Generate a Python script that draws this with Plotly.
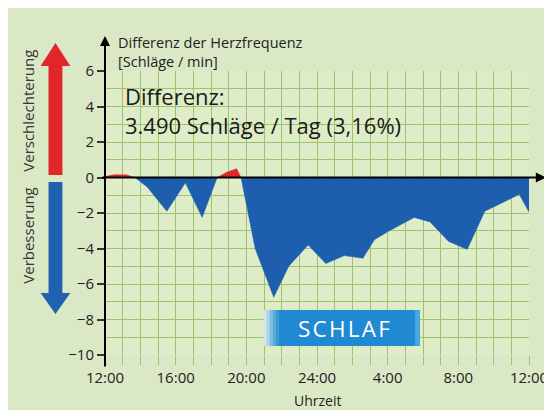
import plotly.graph_objects as go

# Stunden ab 12:00 Uhr und Differenz der Herzfrequenz [Schläge / min]
hours = [0, 0.5, 1.2, 1.7, 2.4, 3.5, 4.55, 5.5, 6.35, 6.9, 7.45, 7.7, 8.5, 9.55,
         10.4, 11.5, 12.5, 13.55, 14.6, 15.25, 16.0, 17.5, 18.4, 19.45, 20.5,
         21.5, 23.45, 24.0]
diff = [0.05, 0.15, 0.15, 0.0, -0.55, -1.9, -0.3, -2.25, 0.0, 0.3, 0.5, 0.0,
        -4.0, -6.75, -5.0, -3.8, -4.85, -4.4, -4.55, -3.5, -3.05, -2.25, -2.5,
        -3.6, -4.05, -1.9, -0.95, -1.95]

x_tickvals = [0, 4, 8, 12, 16, 20, 24]
x_ticktext = ['12:00', '16:00', '20:00', '24:00', '4:00', '8:00', '12:00']

# die Seite hat 8px Rand (body margin), Positionen unten sind Seiten-Pixel
OFF = 8
W, H = 552, 410
L, T = 105 - OFF, 71 - OFF
R, B = W - (533 - OFF), H - (355 - OFF)
pw, ph = W - L - R, H - T - B


def px(x):
    return (x - OFF - L) / pw


def py(y):
    return (H - B - (y - OFF)) / ph


BG = '#dbe8c5'
PLOT_BG = '#dfecc8'
GRID = '#9fc26c'
RED = '#e0262a'
BLUE = '#1d5fae'
TXT = '#222222'
FONT = 'Open Sans'

pos = [max(v, 0) for v in diff]
neg = [min(v, 0) for v in diff]

fig = go.Figure()
fig.add_trace(go.Scatter(x=hours, y=neg, fill='tozeroy', mode='lines',
                         line=dict(color=BLUE, width=0.5), fillcolor=BLUE,
                         hoverinfo='skip'))
fig.add_trace(go.Scatter(x=hours, y=pos, fill='tozeroy', mode='lines',
                         line=dict(color=RED, width=0.5), fillcolor=RED,
                         hoverinfo='skip'))

shapes = []
# rote / blaue Pfeile links
shapes.append(dict(type='path', xref='paper', yref='paper', fillcolor=RED, line_width=0,
                   path=f'M {px(48)},{py(175)} L {px(48)},{py(66)} L {px(40)},{py(66)} '
                        f'L {px(55)},{py(43)} L {px(70)},{py(66)} L {px(62)},{py(66)} '
                        f'L {px(62)},{py(175)} Z'))
shapes.append(dict(type='path', xref='paper', yref='paper', fillcolor='#1f62b0', line_width=0,
                   path=f'M {px(48)},{py(182)} L {px(48)},{py(293)} L {px(40)},{py(293)} '
                        f'L {px(55)},{py(314)} L {px(70)},{py(293)} L {px(62)},{py(293)} '
                        f'L {px(62)},{py(182)} Z'))

# SCHLAF-Balken mit Verlauf links
fade = ['#cfe6ee', '#a9d4ea', '#7fbfe4', '#55aadd', '#3598d6']
for i, c in enumerate(fade):
    shapes.append(dict(type='rect', xref='paper', yref='paper',
                       x0=px(265 + i * 3), x1=px(268 + i * 3), y0=py(346), y1=py(310),
                       fillcolor=c, line_width=0))
shapes.append(dict(type='rect', xref='paper', yref='paper', x0=px(280), x1=px(423),
                   y0=py(346), y1=py(310), fillcolor='#1f8ad2', line_width=0))
shapes.append(dict(type='rect', xref='paper', yref='paper', x0=px(418), x1=px(423),
                   y0=py(346), y1=py(310), fillcolor='#4aa6dc', line_width=0))


def label(text, x, y, size, color=TXT, **kw):
    return dict(xref='paper', yref='paper', x=px(x), y=py(y), xanchor=kw.pop('xanchor', 'center'),
                yanchor='middle', showarrow=False, text=text,
                font=dict(family=FONT, size=size, color=color), **kw)


annotations = [
    # y-Achse mit Pfeil
    dict(xref='paper', yref='paper', x=px(105), y=py(36), ax=0, ay=332, text='',
         showarrow=True, arrowhead=2, arrowsize=1, arrowwidth=2, arrowcolor='black'),
    # x-Achse (Nulllinie) mit Pfeil
    dict(xref='paper', yref='y', x=px(550), y=0, ax=-445, ay=0, text='',
         showarrow=True, arrowhead=2, arrowsize=1, arrowwidth=2, arrowcolor='black'),
    label('Differenz der Herzfrequenz<br>[Schläge / min]', 116, 52, 14.5,
          xanchor='left', align='left'),
    label('Differenz:<br>3.490 Schläge / Tag (3,16%)', 123, 110, 22,
          color='#1a1a1a', xanchor='left', align='left'),
    label('Verschlechterung', 27, 111, 15, color='#333333', textangle=-90),
    label('Verbesserung', 27, 235, 15, color='#333333', textangle=-90),
    label('S\u200aC\u200aH\u200aL\u200aA\u200aF', 346, 328, 22.5, color='white'),
    label('Uhrzeit', 319, 400, 14),
]

fig.update_layout(
    width=W, height=H,
    margin=dict(l=L, r=R, t=T, b=B),
    paper_bgcolor=BG, plot_bgcolor=PLOT_BG,
    showlegend=False,
    shapes=shapes,
    annotations=annotations,
    xaxis=dict(range=[0, 24], tickmode='array', tickvals=x_tickvals, ticktext=x_ticktext,
               showgrid=True, gridcolor=GRID, gridwidth=1.2, zeroline=False, showline=False,
               ticks='outside', ticklen=9, tickcolor=GRID, tickwidth=1.2,
               tickfont=dict(family=FONT, size=15, color=TXT),
               minor=dict(dtick=1, showgrid=True, gridcolor=GRID, gridwidth=1.2,
                          ticks='outside', ticklen=9, tickcolor=GRID, tickwidth=1.2)),
    yaxis=dict(range=[-10, 6], dtick=2, tick0=0,
               showgrid=True, gridcolor=GRID, gridwidth=1.2, zeroline=False, showline=False,
               ticks='outside', ticklen=7, tickcolor='#333333', tickwidth=1.5,
               tickfont=dict(family=FONT, size=15, color=TXT),
               minor=dict(dtick=1, showgrid=True, gridcolor=GRID, gridwidth=1.2)),
)

fig.write_html('out.html')
